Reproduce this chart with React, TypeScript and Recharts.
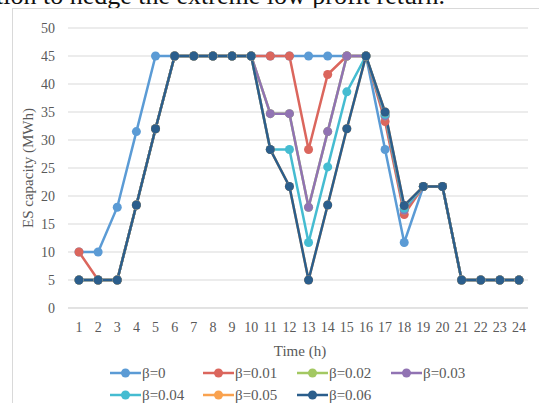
import React from "react";
import { LineChart, Line, XAxis, YAxis, CartesianGrid } from "recharts";

const hours = ["1","2","3","4","5","6","7","8","9","10","11","12","13","14","15","16","17","18","19","20","21","22","23","24"];
const yTicks = [0, 5, 10, 15, 20, 25, 30, 35, 40, 45, 50];

const beta0    = [10, 10, 18, 31.5, 45, 45, 45, 45, 45, 45, 45, 45, 45, 45, 45, 45, 28.3, 11.7, 21.7, 21.7, 5, 5, 5, 5];
const beta001  = [10, 5, 5, 18.4, 32, 45, 45, 45, 45, 45, 45, 45, 28.3, 41.7, 45, 45, 33.3, 16.7, 21.7, 21.7, 5, 5, 5, 5];
const beta002  = [5, 5, 5, 18.4, 32, 45, 45, 45, 45, 45, 34.7, 34.7, 18, 31.5, 45, 45, 34.3, 17.5, 21.7, 21.7, 5, 5, 5, 5];
const beta003  = [5, 5, 5, 18.4, 32, 45, 45, 45, 45, 45, 34.7, 34.7, 18, 31.5, 45, 45, 34.3, 17.5, 21.7, 21.7, 5, 5, 5, 5];
const beta004  = [5, 5, 5, 18.4, 32, 45, 45, 45, 45, 45, 28.3, 28.3, 11.7, 25.2, 38.6, 45, 34.6, 17.8, 21.7, 21.7, 5, 5, 5, 5];
const beta005  = [5, 5, 5, 18.4, 32, 45, 45, 45, 45, 45, 28.3, 21.7, 5, 18.4, 32, 45, 35, 18.3, 21.7, 21.7, 5, 5, 5, 5];
const beta006  = [5, 5, 5, 18.4, 32, 45, 45, 45, 45, 45, 28.3, 21.7, 5, 18.4, 32, 45, 35, 18.3, 21.7, 21.7, 5, 5, 5, 5];

const seriesNames = ["β=0", "β=0.01", "β=0.02", "β=0.03", "β=0.04", "β=0.05", "β=0.06"];
const seriesValues = [beta0, beta001, beta002, beta003, beta004, beta005, beta006];
const seriesColors = ["#5B9BD5", "#DB665D", "#A3C862", "#9173B3", "#45BCD1", "#F9A24F", "#2B5E8C"];

const data = hours.map((h, i) => {
  const row: Record<string, string | number> = { hour: h };
  seriesNames.forEach((n, k) => { row["s" + k] = seriesValues[k][i]; });
  return row;
});

const FONT = "'Liberation Serif', 'Times New Roman', serif";
const TXT = "#595959";

function LegendItem({ name, color, left, top }: { name: string; color: string; left: number; top: number }) {
  return (
    <div style={{ position: "absolute", left, top, height: 20, display: "flex", alignItems: "center" }}>
      <svg width={31} height={12} style={{ display: "block" }}>
        <line x1={0} y1={6} x2={31} y2={6} stroke={color} strokeWidth={2.5} />
        <circle cx={15.5} cy={6} r={4.5} fill={color} />
      </svg>
      <span style={{ fontFamily: FONT, fontSize: 15, color: TXT, marginLeft: 1, whiteSpace: "nowrap" }}>{name}</span>
    </div>
  );
}

export default function App() {
  const legendPos = [
    [110, 363], [203, 363], [297, 363], [391, 363],
    [110, 385], [203, 385], [297, 385],
  ];
  return (
    <div style={{ position: "absolute", left: 0, top: 0, width: 539, height: 403, overflow: "hidden", background: "#fff", fontFamily: FONT }}>
      <div style={{ position: "absolute", left: -4, top: -19, fontFamily: FONT, fontSize: 26, color: "#111", whiteSpace: "nowrap" }}>
        tion to hedge the extreme low profit return.
      </div>
      <div style={{ position: "absolute", left: 12, top: 8, width: 560, height: 420, border: "1px solid #D9D9D9" }} />
      <div style={{ position: "absolute", left: 0, top: 0 }}>
        <LineChart width={539} height={403} data={data} margin={{ top: 28, right: 11, bottom: 55, left: 0 }} style={{ fontFamily: FONT }}>
          <CartesianGrid vertical={false} stroke="#D9D9D9" strokeWidth={1} />
          <XAxis
            dataKey="hour"
            axisLine={{ stroke: "#D9D9D9" }}
            tickLine={false}
            interval={0}
            tickMargin={8}
            height={40}
            padding={{ left: 11, right: 9 }}
            tick={{ fontFamily: FONT, fontSize: 14, fill: TXT }}
          />
          <YAxis
            domain={[0, 50]}
            ticks={yTicks}
            axisLine={false}
            tickLine={false}
            width={68}
            tickMargin={7}
            interval={0}
            tick={{ fontFamily: FONT, fontSize: 14, fill: TXT }}
          />
          {seriesNames.map((n, k) => (
            <Line
              key={n}
              type="linear"
              dataKey={"s" + k}
              name={n}
              stroke={seriesColors[k]}
              strokeWidth={2.5}
              dot={{ r: 4.5, fill: seriesColors[k], stroke: seriesColors[k], strokeWidth: 0 }}
              activeDot={false}
              isAnimationActive={false}
            />
          ))}
        </LineChart>
      </div>
      <div style={{ position: "absolute", left: 28, top: 168, transform: "translate(-50%, -50%) rotate(-90deg)", fontFamily: FONT, fontSize: 15, color: TXT, whiteSpace: "nowrap" }}>
        ES capacity (MWh)
      </div>
      <div style={{ position: "absolute", left: 300, top: 351, transform: "translate(-50%, -50%)", fontFamily: FONT, fontSize: 15, color: TXT, whiteSpace: "nowrap" }}>
        Time (h)
      </div>
      {seriesNames.map((n, k) => (
        <LegendItem key={n} name={n} color={seriesColors[k]} left={legendPos[k][0]} top={legendPos[k][1]} />
      ))}
    </div>
  );
}
